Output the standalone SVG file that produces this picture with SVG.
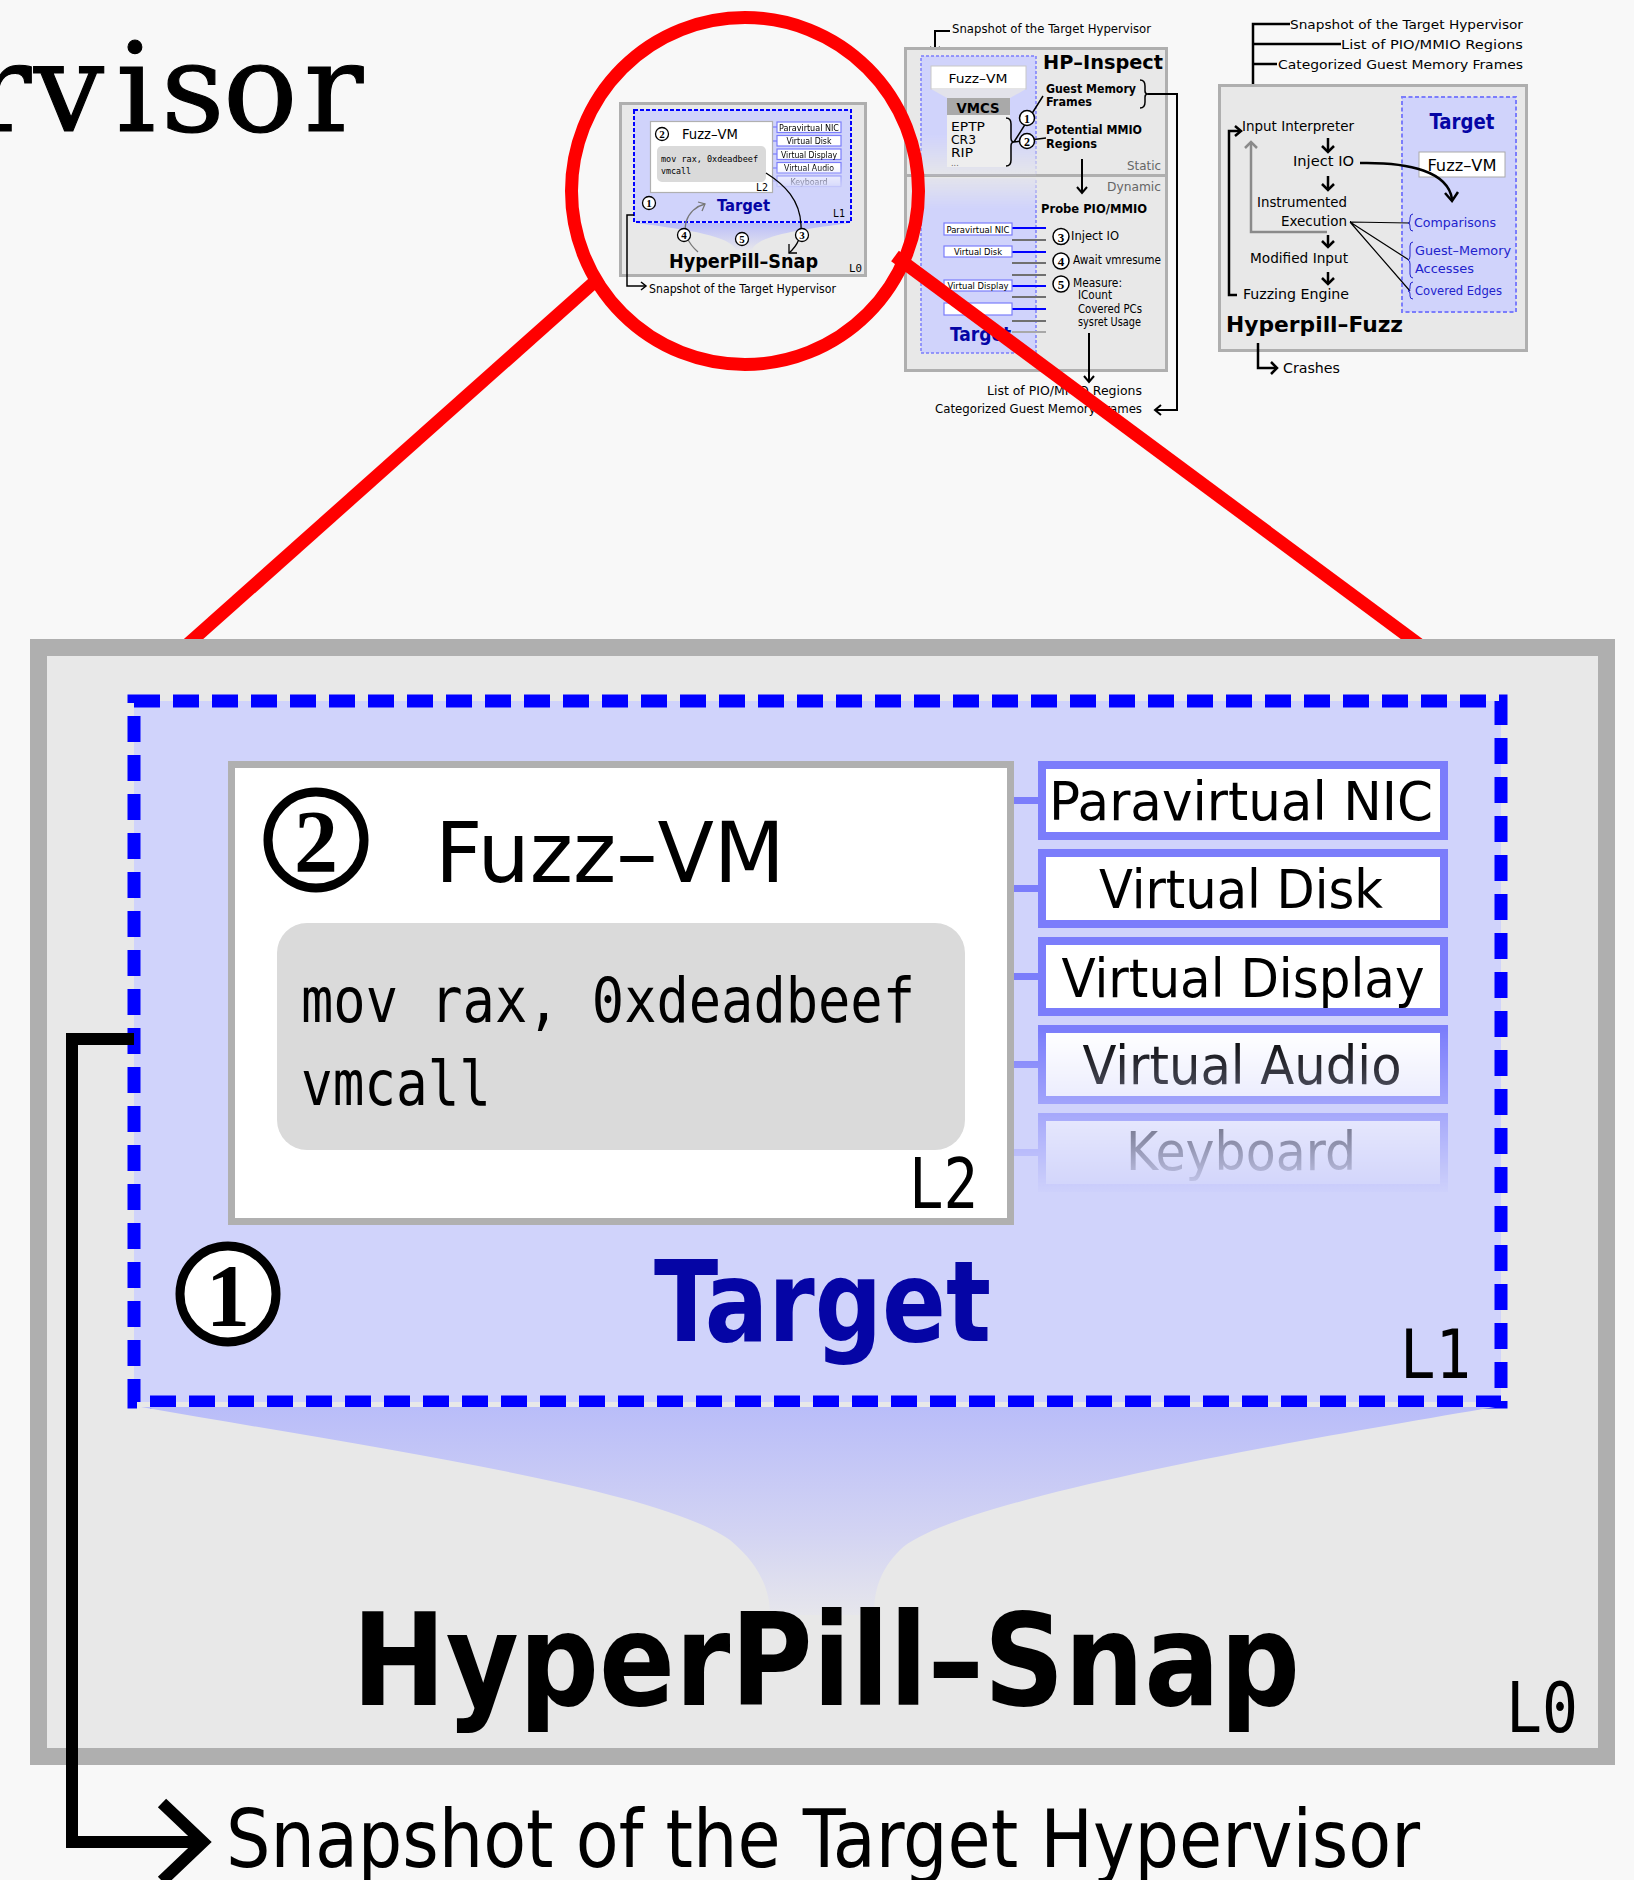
<svg xmlns="http://www.w3.org/2000/svg" width="1634" height="1880" viewBox="0 0 1634 1880">
  <style>
    .t { font-family: "DejaVu Sans Condensed", "DejaVu Sans", sans-serif; font-stretch: condensed; fill: #000; }
    .b { font-weight: bold; }
    .m { font-family: "DejaVu Sans Mono", "Liberation Mono", monospace; fill: #000; }
    .n { font-family: "Liberation Serif", "DejaVu Serif", serif; font-weight: bold; text-anchor: middle; fill: #000; }
    .mid { text-anchor: middle; }
    .end { text-anchor: end; }
    .blue { fill: #0505a5; }
    .lblue { fill: #2222cc; }
    .grey { fill: #666; }
    .ln { fill: none; stroke: #000; stroke-linecap: butt; }
    .panel { fill: #e8e8e8; stroke: #afafaf; }
    .dev { fill: #fff; stroke: #7b7dfb; }
    .ring { fill: #fff; stroke: #000; }
  </style>
  <defs>
    <linearGradient id="funnelBig" x1="0" y1="1402" x2="0" y2="1615" gradientUnits="userSpaceOnUse">
      <stop offset="0" stop-color="#b8bcf9"/>
      <stop offset="0.6" stop-color="#d2d3f3"/>
      <stop offset="1" stop-color="#e6e6ec"/>
    </linearGradient>
    <linearGradient id="funnelMini" x1="0" y1="222" x2="0" y2="250" gradientUnits="userSpaceOnUse">
      <stop offset="0" stop-color="#b8bcf9"/>
      <stop offset="1" stop-color="#e6e6ec"/>
    </linearGradient>
    <linearGradient id="fadeBig" x1="0" y1="1030" x2="0" y2="1195" gradientUnits="userSpaceOnUse">
      <stop offset="0" stop-color="#fff"/>
      <stop offset="1" stop-color="#000"/>
    </linearGradient>
    <mask id="devFadeBig" maskUnits="userSpaceOnUse" x="1000" y="740" width="480" height="480">
      <rect x="1000" y="740" width="480" height="480" fill="url(#fadeBig)"/>
    </mask>
    <linearGradient id="fadeMini" x1="0" y1="166" x2="0" y2="190" gradientUnits="userSpaceOnUse">
      <stop offset="0" stop-color="#fff"/>
      <stop offset="1" stop-color="#000"/>
    </linearGradient>
    <mask id="devFadeMini" maskUnits="userSpaceOnUse" x="765" y="115" width="85" height="80">
      <rect x="765" y="115" width="85" height="80" fill="url(#fadeMini)"/>
    </mask>
    <linearGradient id="fadeStatic" x1="0" y1="135" x2="0" y2="174" gradientUnits="userSpaceOnUse">
      <stop offset="0" stop-color="#fff"/>
      <stop offset="1" stop-color="#222"/>
    </linearGradient>
    <mask id="staticFade" maskUnits="userSpaceOnUse" x="915" y="50" width="130" height="126">
      <rect x="915" y="50" width="130" height="126" fill="url(#fadeStatic)"/>
    </mask>
    <linearGradient id="fadeDyn" x1="0" y1="178" x2="0" y2="208" gradientUnits="userSpaceOnUse">
      <stop offset="0" stop-color="#333"/>
      <stop offset="1" stop-color="#fff"/>
    </linearGradient>
    <mask id="dynFade" maskUnits="userSpaceOnUse" x="915" y="177" width="130" height="182">
      <rect x="915" y="177" width="130" height="182" fill="url(#fadeDyn)"/>
    </mask>
  </defs>

  <!-- page -->
  <rect width="1634" height="1880" fill="#f8f8f8"/>
  <text x="-28 34 116 161 223 304" y="131" font-family="DejaVu Serif, Liberation Serif, serif" font-size="124" fill="#000" stroke="#000" stroke-width="1.2">rvisor</text>

  <!-- HP-Inspect overview -->
  <g id="hp-inspect">
    <text class="t" x="952" y="33" font-size="12.5" textLength="199" lengthAdjust="spacingAndGlyphs">Snapshot of the Target Hypervisor</text>
    <path class="ln" d="M950,31 H935 V52" stroke-width="2"/>
    <polyline class="ln" points="930,47 935,53 940,47" stroke-width="2"/>
    <rect class="panel" x="905.5" y="48.5" width="261" height="322" stroke-width="3"/>
    <line x1="905" y1="175.5" x2="1167" y2="175.5" stroke="#afafaf" stroke-width="3"/>
    <g mask="url(#staticFade)">
      <rect x="921" y="56" width="115" height="120" fill="#d0d3fb"/>
      <path d="M921,176 V56 H1036 V176" fill="none" stroke="#7b7dfb" stroke-width="1.5" stroke-dasharray="3 2"/>
    </g>
    <g mask="url(#dynFade)">
      <rect x="921" y="178" width="115" height="175" fill="#d0d3fb"/>
      <path d="M921,178 V353 H1036 V178" fill="none" stroke="#7b7dfb" stroke-width="1.5" stroke-dasharray="3 2"/>
    </g>
    <rect x="931" y="66" width="95" height="23" fill="#fff" stroke="#c8c8c8" stroke-width="1"/>
    <text class="t mid" x="978" y="83" font-size="13" textLength="59" lengthAdjust="spacingAndGlyphs">Fuzz–VM</text>
    <polygon points="931,89 1026,89 1010,98 947,98" fill="#e2e2ea"/>
    <rect x="947" y="98" width="63" height="17" fill="#a9a9a9"/>
    <text class="t b mid" x="978" y="113" font-size="14" textLength="43" lengthAdjust="spacingAndGlyphs">VMCS</text>
    <rect x="947" y="115" width="63" height="52" fill="#eeeeee"/>
    <text class="t" x="951" y="131" font-size="12.5" textLength="34" lengthAdjust="spacingAndGlyphs">EPTP</text>
    <text class="t" x="951" y="144" font-size="12.5" textLength="25" lengthAdjust="spacingAndGlyphs">CR3</text>
    <text class="t" x="951" y="157" font-size="12.5" textLength="22" lengthAdjust="spacingAndGlyphs">RIP</text>
    <text class="t grey" x="951" y="166" font-size="9">...</text>
    <path class="ln" d="M1006,118 Q1011,118 1011,124 V138 Q1011,142 1014,142 Q1011,142 1011,146 V160 Q1011,166 1006,166" stroke-width="1.5"/>
    <path class="ln" d="M1014,142 L1043,96 M1014,142 L1046,138" stroke-width="1.5"/>
    <circle class="ring" cx="1027" cy="118" r="7.5" stroke-width="1.5"/>
    <text class="n" x="1027" y="122.5" font-size="12">1</text>
    <circle class="ring" cx="1027" cy="141" r="7.5" stroke-width="1.5"/>
    <text class="n" x="1027" y="145.5" font-size="12">2</text>
    <text class="t b" x="1043" y="69" font-size="20" textLength="120" lengthAdjust="spacingAndGlyphs">HP–Inspect</text>
    <text class="t b" x="1046" y="93" font-size="12.5" textLength="90" lengthAdjust="spacingAndGlyphs">Guest Memory</text>
    <text class="t b" x="1046" y="106" font-size="12.5" textLength="46" lengthAdjust="spacingAndGlyphs">Frames</text>
    <text class="t b" x="1046" y="134" font-size="12.5" textLength="96" lengthAdjust="spacingAndGlyphs">Potential MMIO</text>
    <text class="t b" x="1046" y="148" font-size="12.5" textLength="51" lengthAdjust="spacingAndGlyphs">Regions</text>
    <path class="ln" d="M1140,80 Q1145,80 1145,86 V91 Q1145,94 1148,94 Q1145,94 1145,97 V102 Q1145,108 1140,108" stroke-width="1.5"/>
    <path class="ln" d="M1148,94 H1177 V410 H1155" stroke-width="2"/>
    <polyline class="ln" points="1161,405 1155,410 1161,415" stroke-width="2"/>
    <text class="t grey end" x="1161" y="170" font-size="13" textLength="34" lengthAdjust="spacingAndGlyphs">Static</text>
    <text class="t grey end" x="1161" y="191" font-size="13" textLength="54" lengthAdjust="spacingAndGlyphs">Dynamic</text>
    <path class="ln" d="M1082,159 V192" stroke-width="2"/>
    <polyline class="ln" points="1077,187 1082,193 1087,187" stroke-width="2"/>
    <text class="t b" x="1041" y="213" font-size="12.5" textLength="106" lengthAdjust="spacingAndGlyphs">Probe PIO/MMIO</text>
    <!-- probed devices -->
    <g stroke-width="2">
      <line x1="1012" y1="228" x2="1046" y2="228" stroke="#0000ff"/>
      <line x1="1012" y1="252" x2="1046" y2="252" stroke="#0000ff"/>
      <line x1="1012" y1="286" x2="1046" y2="286" stroke="#0000ff"/>
      <line x1="1012" y1="309" x2="1046" y2="309" stroke="#0000ff"/>
      <line x1="1012" y1="240" x2="1046" y2="240" stroke="#707070"/>
      <line x1="1012" y1="263" x2="1046" y2="263" stroke="#707070"/>
      <line x1="1012" y1="275" x2="1046" y2="275" stroke="#707070"/>
      <line x1="1012" y1="297" x2="1046" y2="297" stroke="#707070"/>
      <line x1="1012" y1="321" x2="1046" y2="321" stroke="#707070"/>
      <line x1="1012" y1="332" x2="1046" y2="332" stroke="#a8a8a8"/>
    </g>
    <rect class="dev" x="944" y="223" width="68" height="12" stroke-width="1.2"/>
    <rect class="dev" x="944" y="246" width="68" height="11" stroke-width="1.2"/>
    <rect class="dev" x="944" y="280" width="68" height="11" stroke-width="1.2"/>
    <rect class="dev" x="944" y="303" width="68" height="12" stroke-width="1.2"/>
    <text class="t mid" x="978" y="233" font-size="9" textLength="63" lengthAdjust="spacingAndGlyphs">Paravirtual NIC</text>
    <text class="t mid" x="978" y="255" font-size="9" textLength="48" lengthAdjust="spacingAndGlyphs">Virtual Disk</text>
    <text class="t mid" x="978" y="289" font-size="9" textLength="61" lengthAdjust="spacingAndGlyphs">Virtual Display</text>
    <text class="t b blue" x="950" y="341" font-size="19">Target</text>
    <circle class="ring" cx="1061" cy="236.5" r="8" stroke-width="1.5"/>
    <text class="n" x="1061" y="241.5" font-size="13">3</text>
    <circle class="ring" cx="1061" cy="261" r="8" stroke-width="1.5"/>
    <text class="n" x="1061" y="266" font-size="13">4</text>
    <circle class="ring" cx="1061" cy="284" r="8" stroke-width="1.5"/>
    <text class="n" x="1061" y="289" font-size="13">5</text>
    <text class="t" x="1071" y="240" font-size="12.5" textLength="48" lengthAdjust="spacingAndGlyphs">Inject IO</text>
    <text class="t" x="1073" y="264" font-size="12.5" textLength="88" lengthAdjust="spacingAndGlyphs">Await vmresume</text>
    <text class="t" x="1073" y="287" font-size="12.5" textLength="49" lengthAdjust="spacingAndGlyphs">Measure:</text>
    <text class="t" x="1078" y="299" font-size="11.5" textLength="34" lengthAdjust="spacingAndGlyphs">ICount</text>
    <text class="t" x="1078" y="313" font-size="11.5" textLength="64" lengthAdjust="spacingAndGlyphs">Covered PCs</text>
    <text class="t" x="1078" y="326" font-size="11.5" textLength="63" lengthAdjust="spacingAndGlyphs">sysret Usage</text>
    <path class="ln" d="M1089,333 V381" stroke-width="2"/>
    <polyline class="ln" points="1084,376 1089,382 1094,376" stroke-width="2"/>
    <text class="t end" x="1142" y="395" font-size="12.5" textLength="155" lengthAdjust="spacingAndGlyphs">List of PIO/MMIO Regions</text>
    <text class="t end" x="1142" y="413" font-size="12.5" textLength="207" lengthAdjust="spacingAndGlyphs">Categorized Guest Memory Frames</text>
  </g>

  <!-- Hyperpill-Fuzz overview -->
  <g id="hyperpill-fuzz">
    <text class="t end" x="1523" y="29" font-size="13" textLength="233" lengthAdjust="spacingAndGlyphs">Snapshot of the Target Hypervisor</text>
    <text class="t end" x="1523" y="49" font-size="13" textLength="182" lengthAdjust="spacingAndGlyphs">List of PIO/MMIO Regions</text>
    <text class="t end" x="1523" y="69" font-size="13" textLength="245" lengthAdjust="spacingAndGlyphs">Categorized Guest Memory Frames</text>
    <path class="ln" d="M1290,24 H1253 V107 M1253,44 H1341 M1253,64 H1277" stroke-width="2.5"/>
    <polyline class="ln" points="1247,102 1253,108 1259,102" stroke-width="2.5"/>
    <rect class="panel" x="1219.5" y="85.5" width="307" height="265" stroke-width="3"/>
    <rect x="1402" y="97" width="114" height="215" fill="#d0d3fb" stroke="#7b7dfb" stroke-width="2" stroke-dasharray="4 2.5"/>
    <text class="t b blue mid" x="1462" y="129" font-size="21" textLength="65" lengthAdjust="spacingAndGlyphs">Target</text>
    <rect x="1419" y="152" width="86" height="25" fill="#fff" stroke="#aaa" stroke-width="1"/>
    <text class="t mid" x="1462" y="171" font-size="15" textLength="69" lengthAdjust="spacingAndGlyphs">Fuzz–VM</text>
    <text class="t" x="1242" y="131" font-size="14" textLength="112" lengthAdjust="spacingAndGlyphs">Input Interpreter</text>
    <text class="t" x="1293" y="166" font-size="14" textLength="61" lengthAdjust="spacingAndGlyphs">Inject IO</text>
    <text class="t" x="1257" y="207" font-size="14" textLength="90" lengthAdjust="spacingAndGlyphs">Instrumented</text>
    <text class="t" x="1281" y="226" font-size="14" textLength="66" lengthAdjust="spacingAndGlyphs">Execution</text>
    <text class="t" x="1250" y="263" font-size="14" textLength="98" lengthAdjust="spacingAndGlyphs">Modified Input</text>
    <text class="t" x="1243" y="299" font-size="14" textLength="106" lengthAdjust="spacingAndGlyphs">Fuzzing Engine</text>
    <path class="ln" d="M1328,138 V151 M1328,176 V189 M1328,235 V246 M1328,272 V283" stroke-width="2.5"/>
    <polyline class="ln" points="1322,146 1328,152 1334,146" stroke-width="2.5"/>
    <polyline class="ln" points="1322,184 1328,190 1334,184" stroke-width="2.5"/>
    <polyline class="ln" points="1322,241 1328,247 1334,241" stroke-width="2.5"/>
    <polyline class="ln" points="1322,278 1328,284 1334,278" stroke-width="2.5"/>
    <path d="M1327,232 H1251 V142" fill="none" stroke="#8a8a8a" stroke-width="2.5"/>
    <polyline points="1245,148 1251,142 1257,148" fill="none" stroke="#8a8a8a" stroke-width="2.5"/>
    <path class="ln" d="M1237,295 H1229 V131 H1240" stroke-width="2.5"/>
    <polyline class="ln" points="1235,126 1241,131 1235,136" stroke-width="2.5"/>
    <path class="ln" d="M1360,163 C1410,162 1448,172 1452,199" stroke-width="2.5"/>
    <polyline class="ln" points="1445,193 1452,201 1458,192" stroke-width="2.5"/>
    <path class="ln" d="M1350,222 L1410,223 M1350,222 L1409,260 M1350,222 L1410,291" stroke-width="1.2"/>
    <path d="M1413,214 Q1410,214 1410,218 V220 Q1410,223 1408,223 Q1410,223 1410,226 V228 Q1410,231 1413,231" fill="none" stroke="#2222cc" stroke-width="1"/>
    <path d="M1413,242 Q1410,242 1410,246 V256 Q1410,260 1408,260 Q1410,260 1410,264 V274 Q1410,278 1413,278" fill="none" stroke="#2222cc" stroke-width="1"/>
    <path d="M1413,282 Q1410,282 1410,286 V288 Q1410,291 1408,291 Q1410,291 1410,294 V296 Q1410,299 1413,299" fill="none" stroke="#2222cc" stroke-width="1"/>
    <text class="t lblue" x="1414" y="227" font-size="13" textLength="82" lengthAdjust="spacingAndGlyphs">Comparisons</text>
    <text class="t lblue" x="1415" y="255" font-size="13" textLength="96" lengthAdjust="spacingAndGlyphs">Guest–Memory</text>
    <text class="t lblue" x="1415" y="273" font-size="13" textLength="59" lengthAdjust="spacingAndGlyphs">Accesses</text>
    <text class="t lblue" x="1415" y="295" font-size="13" textLength="87" lengthAdjust="spacingAndGlyphs">Covered Edges</text>
    <text class="t b" x="1226" y="332" font-size="22" textLength="177" lengthAdjust="spacingAndGlyphs">Hyperpill–Fuzz</text>
    <path class="ln" d="M1258,343 V368 H1276" stroke-width="2.5"/>
    <polyline class="ln" points="1271,362 1277,368 1271,374" stroke-width="2.5"/>
    <text class="t" x="1283" y="373" font-size="13.5" textLength="57" lengthAdjust="spacingAndGlyphs">Crashes</text>
  </g>

  <!-- HyperPill-Snap overview (small) -->
  <g id="hyperpill-snap-small">
    <rect class="panel" x="620.5" y="103.5" width="245" height="172" stroke-width="3"/>
    <rect x="634" y="110" width="217" height="112" fill="#d0d3fb" stroke="#0000ff" stroke-width="2" stroke-dasharray="4 2"/>
    <path d="M636,223 L849,223 C800,230 758,235 752,250 L736,250 C730,236 690,230 636,223 Z" fill="url(#funnelMini)"/>
    <rect x="650.5" y="121.5" width="122" height="71" fill="#fff" stroke="#b0b0b0" stroke-width="1.2"/>
    <circle class="ring" cx="662" cy="134" r="6.5" stroke-width="1.3"/>
    <text class="n" x="662" y="138" font-size="11">2</text>
    <text class="t" x="682" y="139" font-size="14" textLength="56" lengthAdjust="spacingAndGlyphs">Fuzz–VM</text>
    <rect x="657" y="146" width="109" height="36" rx="5" fill="#dadada"/>
    <text class="m" x="661" y="162" font-size="9.5" fill="#333" textLength="97" lengthAdjust="spacingAndGlyphs">mov rax, 0xdeadbeef</text>
    <text class="m" x="661" y="174" font-size="9.5" fill="#333" textLength="30" lengthAdjust="spacingAndGlyphs">vmcall</text>
    <text class="m end" x="768" y="191" font-size="10" textLength="12" lengthAdjust="spacingAndGlyphs">L2</text>
    <g mask="url(#devFadeMini)">
      <g stroke="#7b7dfb" stroke-width="1.2">
        <line x1="773" y1="127" x2="777" y2="127"/>
        <line x1="773" y1="141" x2="777" y2="141"/>
        <line x1="773" y1="154" x2="777" y2="154"/>
        <line x1="773" y1="168" x2="777" y2="168"/>
        <line x1="773" y1="181" x2="777" y2="181"/>
      </g>
      <rect class="dev" x="777" y="122" width="64" height="10.5" stroke-width="1.2"/>
      <rect class="dev" x="777" y="135.5" width="64" height="10.5" stroke-width="1.2"/>
      <rect class="dev" x="777" y="149" width="64" height="10.5" stroke-width="1.2"/>
      <rect class="dev" x="777" y="162.5" width="64" height="10.5" stroke-width="1.2"/>
      <rect class="dev" x="777" y="176" width="64" height="10.5" stroke-width="1.2"/>
      <text class="t mid" x="809" y="130.5" font-size="8.5" textLength="60" lengthAdjust="spacingAndGlyphs">Paravirtual NIC</text>
      <text class="t mid" x="809" y="144" font-size="8.5" textLength="45" lengthAdjust="spacingAndGlyphs">Virtual Disk</text>
      <text class="t mid" x="809" y="157.5" font-size="8.5" textLength="56" lengthAdjust="spacingAndGlyphs">Virtual Display</text>
      <text class="t mid" x="809" y="171" font-size="8.5" textLength="50" lengthAdjust="spacingAndGlyphs">Virtual Audio</text>
      <text class="t mid" x="809" y="184.5" font-size="8.5" textLength="37" lengthAdjust="spacingAndGlyphs">Keyboard</text>
    </g>
    <text class="t b blue" x="717" y="211" font-size="16" textLength="53" lengthAdjust="spacingAndGlyphs">Target</text>
    <circle class="ring" cx="649" cy="203" r="6.5" stroke-width="1.3"/>
    <text class="n" x="649" y="207" font-size="11">1</text>
    <text class="m end" x="845" y="217" font-size="10" textLength="12" lengthAdjust="spacingAndGlyphs">L1</text>
    <text class="t b" x="669" y="268" font-size="19" textLength="149" lengthAdjust="spacingAndGlyphs">HyperPill–Snap</text>
    <text class="m end" x="862" y="272" font-size="10" textLength="13" lengthAdjust="spacingAndGlyphs">L0</text>
    <path d="M698,252 C690,245 683,235 686,222 C689,212 697,206 705,204" fill="none" stroke="#777" stroke-width="1.3"/>
    <polyline points="698,202 705,204 702,211" fill="none" stroke="#777" stroke-width="1.3"/>
    <path class="ln" d="M766,173 C785,185 800,200 801,225 C802,238 797,246 789,253" stroke-width="1.3"/>
    <polyline class="ln" points="789,244 789,253 797,253" stroke-width="1.3"/>
    <circle class="ring" cx="684" cy="235" r="6.5" stroke-width="1.3"/>
    <text class="n" x="684" y="239" font-size="11">4</text>
    <circle class="ring" cx="742" cy="239" r="6.5" stroke-width="1.3"/>
    <text class="n" x="742" y="243" font-size="11">5</text>
    <circle class="ring" cx="802" cy="235" r="6.5" stroke-width="1.3"/>
    <text class="n" x="802" y="239" font-size="11">3</text>
    <path class="ln" d="M634,215 H627 V286 H645" stroke-width="1.5"/>
    <polyline class="ln" points="641,282 646,286 641,290" stroke-width="1.5"/>
    <text class="t" x="649" y="293" font-size="11.5" textLength="187" lengthAdjust="spacingAndGlyphs">Snapshot of the Target Hypervisor</text>
  </g>

  <!-- magnifier -->
  <g id="magnifier" stroke="#ff0000" stroke-width="13" fill="none">
    <line x1="600" y1="277" x2="170" y2="660"/>
    <line x1="895" y1="256" x2="1440" y2="660"/>
    <circle cx="745" cy="191" r="173.5"/>
  </g>

  <!-- HyperPill-Snap enlarged -->
  <g id="hyperpill-snap">
    <rect class="panel" x="38.5" y="647.5" width="1568" height="1109" stroke-width="17"/>
    <rect x="134" y="701" width="1367" height="701" fill="#d0d3fb" stroke="#0000ff" stroke-width="13" stroke-dasharray="26 13"/>
    <path d="M141,1407 L1495,1407 C1300,1440 950,1500 900,1550 C880,1570 874,1590 874,1615 L770,1615 C770,1590 760,1565 730,1540 C660,1490 400,1452 141,1407 Z" fill="url(#funnelBig)"/>
  </g>

  <g id="fuzz-vm">
    <rect x="231.5" y="764.5" width="779" height="457" fill="#fff" stroke="#b0b0b0" stroke-width="7"/>
    <circle class="ring" cx="316" cy="840" r="48" stroke-width="9"/>
    <text class="n" x="316" y="871" font-size="88">2</text>
    <text class="t" x="435" y="882" font-size="84" textLength="350" lengthAdjust="spacingAndGlyphs">Fuzz–VM</text>
    <rect x="277" y="923" width="688" height="227" rx="30" fill="#dadada"/>
    <text class="m" x="301" y="1022" font-size="62" textLength="614" lengthAdjust="spacingAndGlyphs">mov rax, 0xdeadbeef</text>
    <text class="m" x="301" y="1105" font-size="62" textLength="190" lengthAdjust="spacingAndGlyphs">vmcall</text>
    <text class="m end" x="978" y="1208" font-size="70" textLength="69" lengthAdjust="spacingAndGlyphs">L2</text>
  </g>

  <g id="devices" mask="url(#devFadeBig)">
    <g stroke="#7b7dfb" stroke-width="7">
      <line x1="1014" y1="800.5" x2="1038" y2="800.5"/>
      <line x1="1014" y1="888.5" x2="1038" y2="888.5"/>
      <line x1="1014" y1="976.5" x2="1038" y2="976.5"/>
      <line x1="1014" y1="1064.5" x2="1038" y2="1064.5"/>
      <line x1="1014" y1="1152.5" x2="1038" y2="1152.5"/>
    </g>
    <g id="dev-nic"><rect class="dev" x="1042" y="765" width="402" height="71" stroke-width="8"/>
      <text class="t mid" x="1241" y="820" font-size="54" textLength="384" lengthAdjust="spacingAndGlyphs">Paravirtual NIC</text></g>
    <g id="dev-disk"><rect class="dev" x="1042" y="853" width="402" height="71" stroke-width="8"/>
      <text class="t mid" x="1241" y="908" font-size="54" textLength="284" lengthAdjust="spacingAndGlyphs">Virtual Disk</text></g>
    <g id="dev-display"><rect class="dev" x="1042" y="941" width="402" height="71" stroke-width="8"/>
      <text class="t mid" x="1243" y="997" font-size="54" textLength="363" lengthAdjust="spacingAndGlyphs">Virtual Display</text></g>
    <g id="dev-audio"><rect class="dev" x="1042" y="1029" width="402" height="71" stroke-width="8"/>
      <text class="t mid" x="1242" y="1084" font-size="54" textLength="319" lengthAdjust="spacingAndGlyphs">Virtual Audio</text></g>
    <g id="dev-keyboard"><rect class="dev" x="1042" y="1117" width="402" height="71" stroke-width="8"/>
      <text class="t mid" x="1241" y="1170" font-size="54" textLength="230" lengthAdjust="spacingAndGlyphs">Keyboard</text></g>
  </g>

  <g id="target-labels">
    <text class="t b blue" x="654" y="1341" font-size="112" textLength="337" lengthAdjust="spacingAndGlyphs">Target</text>
    <circle class="ring" cx="228" cy="1294" r="48" stroke-width="9"/>
    <text class="n" x="228" y="1325" font-size="88">1</text>
    <text class="m end" x="1471" y="1378" font-size="68" textLength="71" lengthAdjust="spacingAndGlyphs">L1</text>
    <text class="t b" x="352" y="1705" font-size="128" textLength="948" lengthAdjust="spacingAndGlyphs">HyperPill–Snap</text>
    <text class="m end" x="1578" y="1732" font-size="70" textLength="72" lengthAdjust="spacingAndGlyphs">L0</text>
  </g>

  <!-- output connector -->
  <g id="connectors">
    <path class="ln" d="M134,1039 H72 V1842 H200" stroke-width="12" stroke-linejoin="miter"/>
    <polyline class="ln" points="162,1803 203,1842 162,1881" stroke-width="12"/>
  </g>
  <text class="t" x="226" y="1867" font-size="80" textLength="1194" lengthAdjust="spacingAndGlyphs">Snapshot of the Target Hypervisor</text>
</svg>
